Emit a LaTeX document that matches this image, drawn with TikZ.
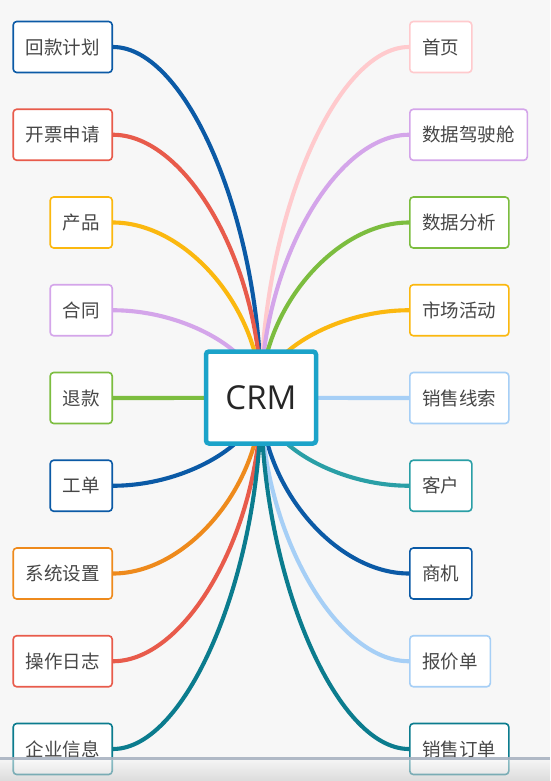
\documentclass[tikz,border=0pt]{standalone}
\usepackage{fontspec}
\newfontfamily\cjk{Noto Sans CJK SC}
\newfontfamily\crmfont{Open Sans}
\usetikzlibrary{calc}
\pgfdeclarelayer{back}
\pgfdeclarelayer{links}
\pgfdeclarelayer{front}
\pgfsetlayers{back,links,main,front}
\definecolor{bgc}{HTML}{F7F7F7}
\definecolor{cBlue}{HTML}{0B5AA6}
\definecolor{cRed}{HTML}{E85B4B}
\definecolor{cYellow}{HTML}{FBB80F}
\definecolor{cPurple}{HTML}{D4A5EA}
\definecolor{cGreen}{HTML}{7CBD3F}
\definecolor{cOrange}{HTML}{EE8A1C}
\definecolor{cTeal}{HTML}{0B7C8E}
\definecolor{cTealB}{HTML}{2A9FA6}
\definecolor{cPink}{HTML}{FFCACD}
\definecolor{cLBlue}{HTML}{A6CFF6}
\definecolor{cCyan}{HTML}{1CA3C9}
\definecolor{txt}{HTML}{474747}
\definecolor{barc}{HTML}{A9B3C1}
\newcommand\mylink[3]{% node, anchor, colour
  \path (#1.#2) coordinate (s);
  \path ($(s)!0.5!(crm.center)$) coordinate (m);
  \draw[linkline,#3] (s) .. controls (m |- s) and (crm.center |- m) .. (crm.center);}
\begin{document}
\begin{tikzpicture}[x=1pt,y=-1pt,
  leaf/.style={draw=#1,fill=white,line width=1.6pt,rounded corners=3.5pt,
    minimum height=51pt,inner xsep=12.5pt,font=\cjk\fontsize{18.5}{21}\selectfont,text=txt},
  lleaf/.style={leaf=#1,anchor=east},
  rleaf/.style={leaf=#1,anchor=west},
  linkline/.style={line width=4.1pt},
  hub/.style={draw=cCyan,fill=white,line width=4.5pt,rounded corners=3pt,
    minimum width=110pt,minimum height=92pt,font=\crmfont\fontsize{33}{36}\selectfont,text=black!85}]
\begin{pgfonlayer}{back}
\fill[bgc] (0,0) rectangle (550,781);
\end{pgfonlayer}
\useasboundingbox (0,0) rectangle (550,781);

\node[hub] (crm) at (261,397.5) {CRM};

% left column
\node[lleaf=cBlue]   (l1) at (113,47)     {回款计划};
\node[lleaf=cRed]    (l2) at (113,134.75) {开票申请};
\node[lleaf=cYellow] (l3) at (113,222.5)  {产品};
\node[lleaf=cPurple] (l4) at (113,310.25) {合同};
\node[lleaf=cGreen]  (l5) at (113,398)    {退款};
\node[lleaf=cBlue]   (l6) at (113,485.75) {工单};
\node[lleaf=cOrange] (l7) at (113,573.5)  {系统设置};
\node[lleaf=cRed]    (l8) at (113,661.25) {操作日志};
\node[lleaf=cTeal]   (l9) at (113,749)    {企业信息};

% right column
\node[rleaf=cPink]   (r1) at (409,47)     {首页};
\node[rleaf=cPurple] (r2) at (409,134.75) {数据驾驶舱};
\node[rleaf=cGreen]  (r3) at (409,222.5)  {数据分析};
\node[rleaf=cYellow] (r4) at (409,310.25) {市场活动};
\node[rleaf=cLBlue]  (r5) at (409,398)    {销售线索};
\node[rleaf=cTealB]  (r6) at (409,485.75) {客户};
\node[rleaf=cBlue]   (r7) at (409,573.5)  {商机};
\node[rleaf=cLBlue]  (r8) at (409,661.25) {报价单};
\node[rleaf=cTeal]   (r9) at (409,749)    {销售订单};

\begin{pgfonlayer}{links}
\mylink{l1}{east}{cBlue}
\mylink{l2}{east}{cRed}
\mylink{l3}{east}{cYellow}
\mylink{l4}{east}{cPurple}
\mylink{l5}{east}{cGreen}
\mylink{l6}{east}{cBlue}
\mylink{l7}{east}{cOrange}
\mylink{l8}{east}{cRed}
\mylink{l9}{east}{cTeal}
\mylink{r1}{west}{cPink}
\mylink{r2}{west}{cPurple}
\mylink{r3}{west}{cGreen}
\mylink{r4}{west}{cYellow}
\mylink{r5}{west}{cLBlue}
\mylink{r6}{west}{cTealB}
\mylink{r7}{west}{cBlue}
\mylink{r8}{west}{cLBlue}
\mylink{r9}{west}{cTeal}
\end{pgfonlayer}

\begin{pgfonlayer}{front}
\shade[top color=gray!8,bottom color=gray!45,opacity=0.55] (0,759) rectangle (550,781);
\fill[barc,opacity=0.9] (0,756.5) rectangle (550,759.5);
\end{pgfonlayer}
\end{tikzpicture}
\end{document}
